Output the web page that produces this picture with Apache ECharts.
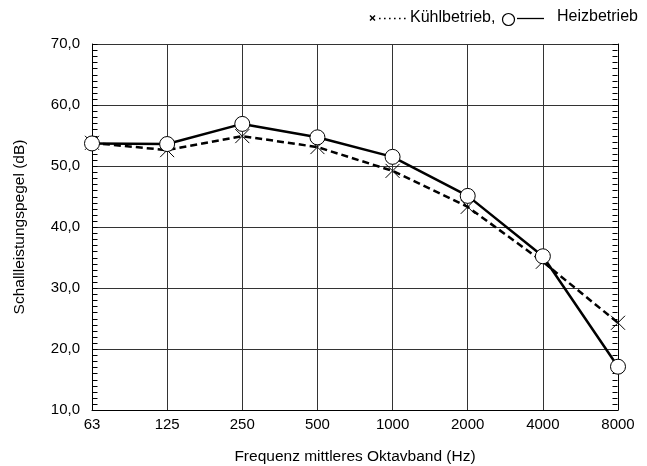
<!DOCTYPE html>
<html><head><meta charset="utf-8">
<script src="https://cdn.jsdelivr.net/npm/echarts@6/dist/echarts.min.js"></script>
<style>html,body{margin:0;padding:0;background:#fff}#c{width:647px;height:466px}</style>
</head><body><div id="c"></div>
<script>
const categories = ['63','125','250','500','1000','2000','4000','8000'];
const heizbetrieb = [53.7, 53.6, 56.9, 54.7, 51.5, 45.1, 35.2, 17.1];
const kuehlbetrieb = [53.8, 52.6, 54.9, 53.1, 49.2, 43.3, 34.3, 24.3];
const yTitle = 'Schallleistungspegel (dB)';
const xTitle = 'Frequenz mittleres Oktavband (Hz)';
const legendCool = 'Kühlbetrieb,';
const legendHeat = 'Heizbetrieb';
const yMin = 10, yMax = 70, yMajor = 10, yMinor = 1;

const chart = echarts.init(document.getElementById('c'));
const font = 'Liberation Sans, Arial, sans-serif';
const legendGraphics = [
  {id:'lg1', type:'line', shape:{x1:370, y1:15.5, x2:375, y2:20.5}, style:{stroke:'#000', lineWidth:1.5}},
  {id:'lg2', type:'line', shape:{x1:375, y1:15.5, x2:370, y2:20.5}, style:{stroke:'#000', lineWidth:1.5}},
  {id:'lg3', type:'line', shape:{x1:379, y1:18.5, x2:408, y2:18.5}, style:{stroke:'#000', lineWidth:1.5, lineDash:[1.6,3.4]}},
  {id:'lg4', type:'text', x:410, y:18, style:{text:legendCool, font:'16px Liberation Sans, Arial, sans-serif', fill:'#000', verticalAlign:'middle', textVerticalAlign:'middle'}},
  {id:'lg5', type:'circle', shape:{cx:508.5, cy:19.5, r:6}, style:{stroke:'#000', fill:'#fff', lineWidth:1.2}},
  {id:'lg6', type:'line', shape:{x1:517, y1:18.5, x2:544, y2:18.5}, style:{stroke:'#000', lineWidth:1.3}},
  {id:'lg7', type:'text', x:557, y:17, style:{text:legendHeat, font:'16px Liberation Sans, Arial, sans-serif', fill:'#000', verticalAlign:'middle', textVerticalAlign:'middle'}}
];
const gridOpt = {left:92, right:29, top:44, bottom:56, outerBoundsMode:'none', containLabel:false};
chart.setOption({
  animation:false,
  backgroundColor:'#fff',
  grid:gridOpt,
  xAxis:{
    type:'category', data:categories, boundaryGap:false,
    axisLine:{lineStyle:{color:'#000', width:1}},
    axisTick:{show:false},
    axisLabel:{color:'#000', fontFamily:font, fontSize:15, margin:7},
    splitLine:{show:true, lineStyle:{color:'#333', width:1}},
    name:xTitle, nameLocation:'middle', nameGap:39,
    nameTextStyle:{color:'#000', fontFamily:font, fontSize:15.5}
  },
  yAxis:[
    {
      type:'value', min:yMin, max:yMax, interval:yMajor, position:'left',
      axisLine:{show:true, lineStyle:{color:'#000', width:1}},
      axisTick:{show:true, inside:true, length:5, lineStyle:{color:'#000', width:1}},
      axisLabel:{color:'#000', fontFamily:font, fontSize:15, margin:12, formatter:v=>v.toFixed(1).replace('.',',')},
      splitLine:{show:true, lineStyle:{color:'#333', width:1}},
      name:yTitle, nameLocation:'middle', nameGap:64, nameRotate:90,
      nameTextStyle:{color:'#000', fontFamily:font, fontSize:15.5}
    },
    {
      type:'value', min:yMin, max:yMax, interval:yMajor, position:'right',
      axisLine:{show:true, lineStyle:{color:'#000', width:1}},
      axisTick:{show:false}, axisLabel:{show:false}, splitLine:{show:false}
    }
  ],
  series:[
    {
      name:'Kühlbetrieb', type:'line', data:kuehlbetrieb, clip:false, yAxisIndex:1,
      lineStyle:{color:'#000', width:2.5, type:[7,4]},
      symbol:'path://M0,0L10,10M10,0L0,10', symbolSize:14,
      itemStyle:{color:'#000', borderColor:'#000', borderWidth:1}, z:3
    },
    {
      name:'Heizbetrieb', type:'line', data:heizbetrieb, clip:false, yAxisIndex:0,
      lineStyle:{color:'#000', width:2.5},
      symbol:'circle', symbolSize:15, showAllSymbol:true,
      itemStyle:{color:'#fff', borderColor:'#000', borderWidth:1}, z:4
    }
  ],
  graphic:legendGraphics
});
// inward minor ticks on left and right axes, placed through the chart's own scales
function px(finder, val, fallback) {
  let r;
  try { r = chart.convertToPixel(finder, val); } catch (e) { r = NaN; }
  if (Array.isArray(r)) r = r[0];
  return (typeof r === 'number' && isFinite(r)) ? r : fallback;
}
const W = 647, H = 466;
const xLeft = px({xAxisIndex:0}, categories[0], gridOpt.left);
const xRight = px({xAxisIndex:0}, categories[categories.length-1], W - gridOpt.right);
const tickGraphics = [];
for (let v = yMin, i = 0; v <= yMax; v += yMinor, i++) {
  const fb = gridOpt.top + (yMax - v) / (yMax - yMin) * (H - gridOpt.top - gridOpt.bottom);
  const y = Math.round(px({yAxisIndex:0}, v, fb)) + 0.5;
  const xl = Math.round(xLeft) + 0.5, xr = Math.round(xRight) - 0.5;
  tickGraphics.push({id:'tl'+i, type:'line', z:1, shape:{x1:xl, y1:y, x2:xl+5, y2:y}, style:{stroke:'#000', lineWidth:1}});
  tickGraphics.push({id:'tr'+i, type:'line', z:1, shape:{x1:xr-5, y1:y, x2:xr, y2:y}, style:{stroke:'#000', lineWidth:1}});
}
chart.setOption({graphic: legendGraphics.concat(tickGraphics)});
</script></body></html>
